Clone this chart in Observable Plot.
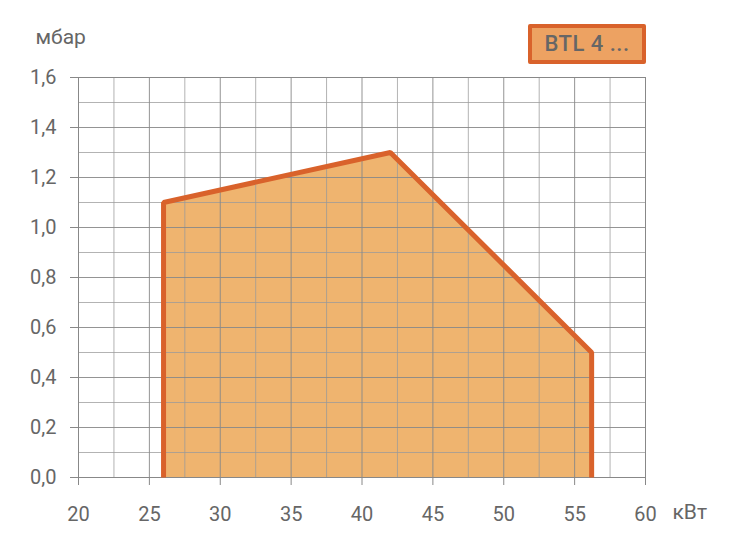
<!DOCTYPE html>
<html><head><meta charset="utf-8">
<script src="https://cdn.jsdelivr.net/npm/d3@7"></script>
<script src="https://cdn.jsdelivr.net/npm/@observablehq/plot@0.6"></script>
<style>
html,body{margin:0;padding:0;background:#fff;}
#wrap{position:relative;width:730px;height:535px;font-family:Roboto,sans-serif;}
#legend{position:absolute;left:528px;top:24px;width:110px;height:32px;border:4px solid #D9622B;background:#EDA262;border-radius:2px;
 color:#666;font:500 22px Roboto,sans-serif;line-height:32px;text-align:center;letter-spacing:0.5px;}
</style></head>
<body><div id="wrap"><div id="legend">BTL 4 ...</div></div>
<script>
const powerKW = [26, 26, 42, 56.2, 56.2];
const pressureMbar = [0, 1.1, 1.3, 0.5, 0];
const xTicks = [20, 25, 30, 35, 40, 45, 50, 55, 60];
const yTicks = [0, 0.2, 0.4, 0.6, 0.8, 1.0, 1.2, 1.4, 1.6];
const xMinor = [22.5, 27.5, 32.5, 37.5, 42.5, 47.5, 52.5, 57.5];
const yMinor = [0.1, 0.3, 0.5, 0.7, 0.9, 1.1, 1.3, 1.5];
const legendLabel = "BTL 4 ...";

const pts = powerKW.map((x, i) => ({x, y: pressureMbar[i]}));
const fmt = v => v.toFixed(1).replace(".", ",");

const chart = Plot.plot({
  width: 730, height: 535,
  marginLeft: 78, marginRight: 85, marginTop: 77, marginBottom: 58,
  style: {fontFamily: "Roboto, sans-serif", color: "#666", background: "#fff"},
  x: {domain: [20, 60]},
  y: {domain: [0, 1.6]},
  marks: [
    Plot.areaY(pts, {x: "x", y: "y", fill: "#EFB46F"}),
    Plot.ruleX(xMinor, {stroke: "#999", strokeOpacity: 0.75, strokeWidth: 1}),
    Plot.ruleY(yMinor, {stroke: "#999", strokeOpacity: 0.75, strokeWidth: 1}),
    Plot.ruleX(xTicks, {stroke: "#888", strokeOpacity: 0.9, strokeWidth: 1}),
    Plot.ruleY(yTicks, {stroke: "#888", strokeOpacity: 0.9, strokeWidth: 1}),
    Plot.frame({stroke: "#888"}),
    Plot.line(pts, {x: "x", y: "y", stroke: "#D9622B", strokeWidth: 5, strokeLinejoin: "miter", strokeLinecap: "butt"}),
    Plot.axisX(xTicks, {tickSize: 8, tickPadding: 21, fontSize: 20, stroke: "#888", color: "#666", label: null}),
    Plot.axisY(yTicks, {tickSize: 8, tickPadding: 14, fontSize: 20, stroke: "#888", color: "#666", tickFormat: fmt, label: null}),
    Plot.text(["мбар"], {frameAnchor: "top-left", dx: -43, dy: -40, lineAnchor: "middle", textAnchor: "start", fontSize: 21, fill: "#666"}),
    Plot.text(["кВт"], {frameAnchor: "bottom-right", dx: 27, dy: 35, lineAnchor: "middle", textAnchor: "start", fontSize: 21, fill: "#666"})
  ]
});
document.getElementById("legend").textContent = legendLabel;
document.getElementById("wrap").prepend(chart);
</script></body></html>
